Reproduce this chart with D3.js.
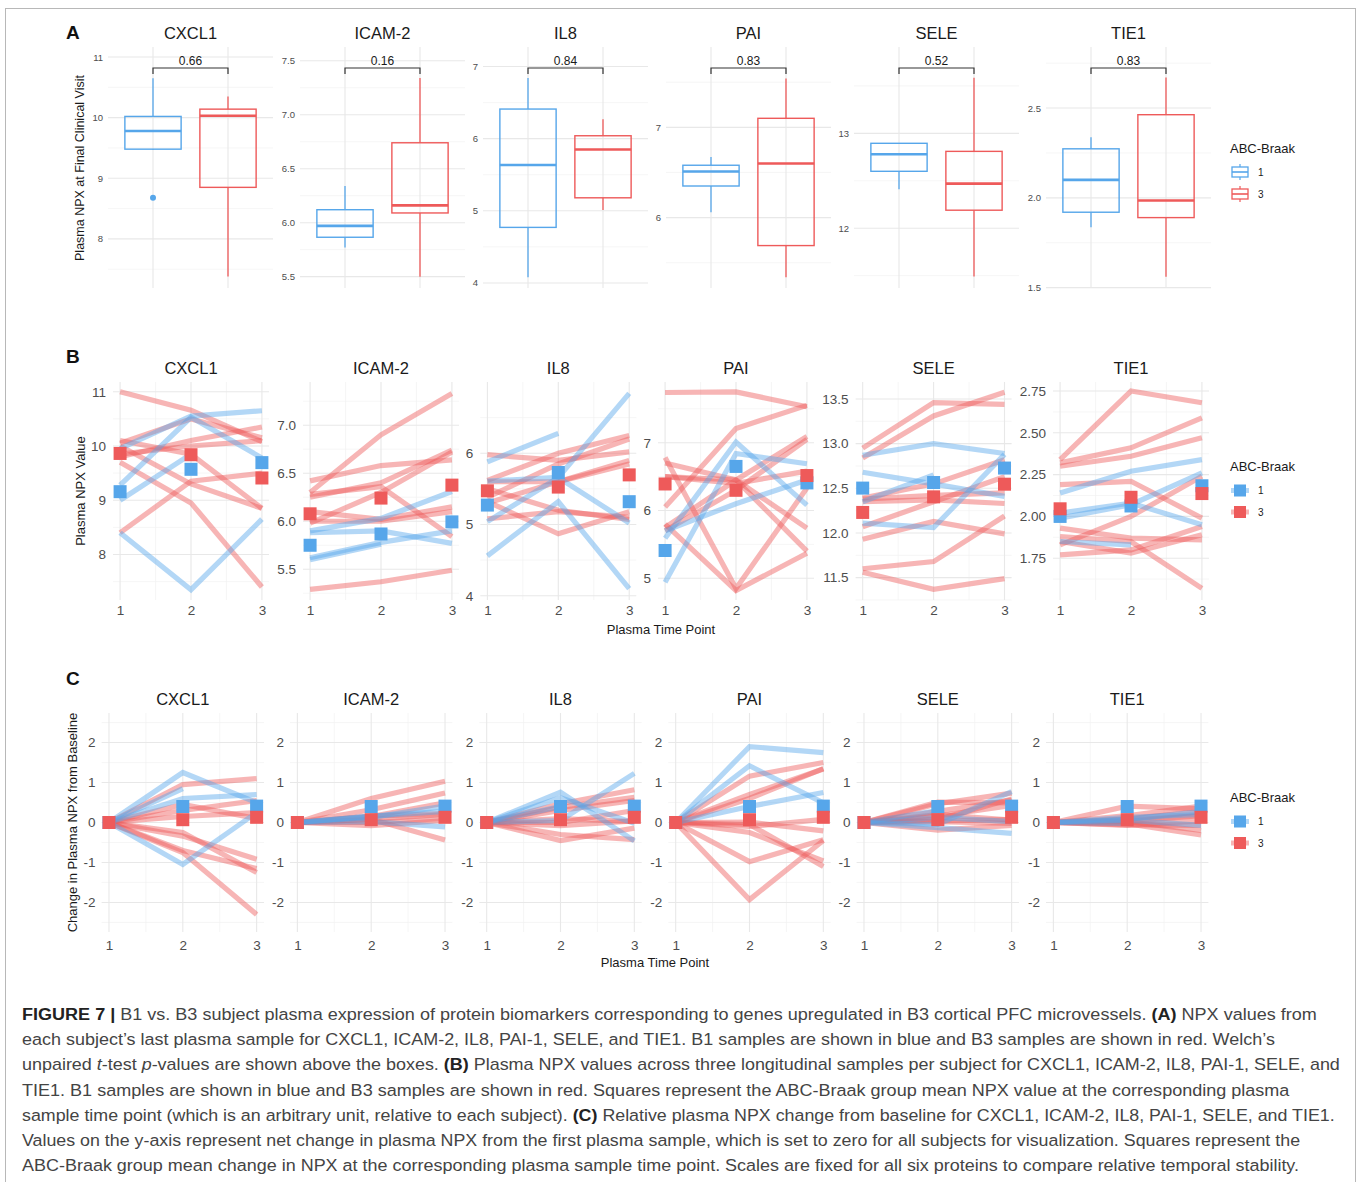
<!DOCTYPE html>
<html>
<head>
<meta charset="utf-8">
<script src="https://cdn.jsdelivr.net/npm/d3@7"></script>
<style>
  body { margin: 0; background: #fff; }
  text { font-family: "Liberation Sans", Arial, Helvetica, sans-serif; }
</style>
</head>
<body>
<svg id="fig" width="1360" height="1182"></svg>
<script>
// ---- data ----
const proteins = ['CXCL1', 'ICAM-2', 'IL8', 'PAI', 'SELE', 'TIE1']
const groups = ['1', '3']
const timePoints = [1, 2, 3]
const pValues = ['0.66', '0.16', '0.84', '0.83', '0.52', '0.83']

// panel A boxes: [lower whisker, Q1, median, Q3, upper whisker]
const boxB1 = [
  [9.47, 9.48, 9.78, 10.02, 10.65],
  [5.77, 5.865, 5.97, 6.12, 6.34],
  [4.08, 4.77, 5.635, 6.41, 6.84],
  [6.06, 6.35, 6.51, 6.58, 6.67],
  [12.41, 12.60, 12.78, 12.895, 12.895],
  [1.836, 1.92, 2.10, 2.273, 2.338]
]
const boxB3 = [
  [7.38, 8.85, 10.03, 10.14, 10.35],
  [5.50, 6.09, 6.16, 6.74, 7.34],
  [5.01, 5.18, 5.85, 6.04, 6.27],
  [5.34, 5.69, 6.60, 7.10, 7.54],
  [11.49, 12.19, 12.47, 12.81, 13.585],
  [1.56, 1.89, 1.985, 2.463, 2.67]
]
const outliersB1 = [[8.68], [], [], [], [], []]
const outliersB3 = [[], [], [], [], [], []]
const yDomA = [[7.19, 11.165], [5.395, 7.627], [3.93, 7.27], [5.22, 7.89], [11.37, 13.91], [1.498, 2.84]]
const ticksA = [[8, 9, 10, 11], [5.5, 6, 6.5, 7, 7.5], [4, 5, 6, 7], [6, 7], [12, 13], [1.5, 2, 2.5]]
const fmtA = ['.0f', '.1f', '.0f', '.0f', '.0f', '.1f']

// panel B: one row per subject, NPX at time points 1,2,3 (null = no sample)
const cxcl1B1 = [[8.40, 7.35, 8.65], [9.28, 10.53, 9.78], [9.95, 10.55, 10.65], [9.00, 9.85, null]]
const cxcl1B3 = [[11.0, 10.66, 10.08], [8.40, 9.35, 9.50], [9.70, 8.95, 7.40], [10.10, 9.85, 8.85],
  [9.80, 10.10, 10.35], [10.05, 10.50, 10.15], [9.85, 10.00, 10.10], [10.00, 9.30, 8.85]]
const icam2B1 = [[5.90, 6.03, 6.31], [5.88, 5.90, 5.77], [5.62, 5.78, 5.90], [5.60, 5.76, null]]
const icam2B3 = [[6.30, 6.90, 7.33], [5.29, 5.37, 5.49], [6.42, 6.58, 6.64], [6.25, 6.40, 6.74],
  [6.28, 6.36, 5.84], [5.98, 6.30, 6.72], [6.10, 6.02, 6.15], [6.00, 6.00, 6.10]]
const il8B1 = [[5.88, 6.28, null], [4.56, 5.32, 4.10], [5.61, 5.66, 6.84], [5.04, 5.66, 5.02]]
const il8B3 = [[5.98, 5.90, 6.02], [5.62, 6.00, 6.25], [5.60, 5.60, 5.90], [5.38, 5.85, 6.20],
  [5.30, 5.60, 5.85], [5.50, 5.20, 5.07], [5.32, 4.87, 5.18], [5.08, 5.18, 5.10]]
const paiB1 = [[4.94, 6.84, 6.69], [5.59, 7.01, 6.08], [5.70, 6.10, 6.45]]
const paiB3 = [[7.74, 7.75, 7.53], [6.05, 7.21, 7.55], [6.78, 4.85, 6.33], [5.80, 4.82, 5.37],
  [5.75, 6.45, 7.09], [6.70, 6.45, 5.74], [6.50, 6.40, 6.58], [5.70, 6.30, 7.05], [6.50, 6.45, 5.40]]
const seleB1 = [[12.87, 13.00, 12.89], [12.68, 12.55, 12.41], [12.35, 12.65, null], [12.11, 12.06, 12.88]]
const seleB3 = [[12.95, 13.46, 13.44], [12.84, 13.31, 13.575], [12.39, 12.55, 12.82], [12.38, 12.42, 12.45],
  [12.35, 12.37, 12.33], [12.07, 12.35, 12.63], [11.93, 12.13, 11.99], [11.60, 11.68, 12.19], [11.56, 11.37, 11.49]]
const tie1B1 = [[2.14, 2.27, 2.34], [2.02, 2.08, 1.95], [1.99, 2.07, 2.26], [1.85, 1.83, null]]
const tie1B3 = [[2.34, 2.75, 2.68], [2.32, 2.41, 2.59], [2.30, 2.36, 2.47], [2.19, 2.21, 1.99],
  [1.93, 1.87, 1.86], [1.88, 1.85, 1.57], [1.83, 2.00, 2.24], [1.77, 1.80, 1.94], [1.85, 1.78, 1.89]]
const yDomB = [[7.16, 11.18], [5.18, 7.45], [3.94, 7.0], [4.68, 7.895], [11.25, 13.69], [1.50, 2.804]]
const ticksB = [[8, 9, 10, 11], [5.5, 6, 6.5, 7], [4, 5, 6], [5, 6, 7], [11.5, 12, 12.5, 13, 13.5], [1.75, 2, 2.25, 2.5, 2.75]]
const fmtB = ['.0f', '.1f', '.0f', '.0f', '.1f', '.2f']

// panel C: fixed scale, group mean squares as drawn in the figure
const yDomC = [-2.74, 2.74]
const ticksC = [-2, -1, 0, 1, 2]
const meanC1 = [0, 0.40, 0.41]
const meanC3 = [0, 0.07, 0.13]

// ---- setup ----
const linesB1 = [cxcl1B1, icam2B1, il8B1, paiB1, seleB1, tie1B1]
const linesB3 = [cxcl1B3, icam2B3, il8B3, paiB3, seleB3, tie1B3]
const blue = '#56a6ea', red = '#ee5a5a'
const ink = '#1a1a1a', tickInk = '#4d4d4d'

let svg = d3.select('#fig')

svg.append('rect').attr('x', 5.5).attr('y', 8.5).attr('width', 1350).attr('height', 1200)
  .attr('fill', 'none').attr('stroke', '#b8b8b8')

function minorOf(ticks, dom) {
  let step = ticks.length > 1 ? ticks[1] - ticks[0] : 1
  let out = []
  for (let v = ticks[0] - step / 2; v <= dom[1] + 1e-9; v += step) {
    if (v >= dom[0]) out.push(v)
  }
  return out
}

// ggplot prints a plain hyphen for negatives
function fmtPlain(spec) {
  let f = d3.format(spec)
  return d => f(d).replace('\u2212', '-')
}

function drawGrid(g, x, y, xMajor, xMinor, yMajor, yMinor) {
  let [x0, x1] = x.range(), [y0, y1] = y.range()
  g.selectAll(null).data(yMinor).join('line')
    .attr('x1', x0).attr('x2', x1).attr('y1', d => y(d)).attr('y2', d => y(d))
    .attr('stroke', '#f2f2f2').attr('stroke-width', 0.7)
  g.selectAll(null).data(xMinor).join('line')
    .attr('y1', y0).attr('y2', y1).attr('x1', d => x(d)).attr('x2', d => x(d))
    .attr('stroke', '#f2f2f2').attr('stroke-width', 0.7)
  g.selectAll(null).data(yMajor).join('line')
    .attr('x1', x0).attr('x2', x1).attr('y1', d => y(d)).attr('y2', d => y(d))
    .attr('stroke', '#e8e8e8').attr('stroke-width', 1.1)
  g.selectAll(null).data(xMajor).join('line')
    .attr('y1', y0).attr('y2', y1).attr('x1', d => x(d)).attr('x2', d => x(d))
    .attr('stroke', '#e8e8e8').attr('stroke-width', 1.1)
}

function leftAxis(g, y, ticks, fmt, size, pad) {
  let ax = g.append('g').attr('transform', 'translate(' + y.left + ',0)')
    .call(d3.axisLeft(y).tickValues(ticks).tickFormat(fmtPlain(fmt)).tickSize(0).tickPadding(pad))
  ax.select('.domain').remove()
  ax.selectAll('text').attr('font-size', size).attr('fill', tickInk)
    .attr('font-family', '"Liberation Sans", Arial, sans-serif')
}

function panelTitle(text, cx, cy) {
  svg.append('text').attr('x', cx).attr('y', cy).attr('dy', '0.35em')
    .attr('text-anchor', 'middle').attr('font-size', 16.5).attr('fill', ink).text(text)
}

function letter(t, x, y) {
  svg.append('text').attr('x', x).attr('y', y).attr('font-size', 19).attr('font-weight', 'bold')
    .attr('fill', '#111').text(t)
}

function yTitle(t, x, cy, size) {
  svg.append('text').attr('transform', 'translate(' + x + ',' + cy + ') rotate(-90)')
    .attr('text-anchor', 'middle').attr('dy', '0.35em').attr('font-size', size).attr('fill', ink).text(t)
}

// ---- panel A: boxplots ----
function drawBoxRow() {
  let top = 47, bottom = 288, w = 165
  let lefts = [108, 300, 483, 666, 854, 1046]
  proteins.forEach((p, i) => {
    let left = lefts[i]
    let g = svg.append('g')
    let x = d3.scaleLinear().domain([0.4, 2.6]).range([left, left + w])
    let y = d3.scaleLinear().domain(yDomA[i]).range([bottom, top])
    y.left = left
    drawGrid(g, x, y, [1, 2], [], ticksA[i], minorOf(ticksA[i], yDomA[i]))
    leftAxis(g, y, ticksA[i], fmtA[i], 9.5, 5)

    let boxes = [{ k: 1, s: boxB1[i], c: blue, out: outliersB1[i] }, { k: 2, s: boxB3[i], c: red, out: outliersB3[i] }]
    boxes.forEach(b => {
      let cx = x(b.k), hw = x(b.k + 0.375) - cx
      g.append('line').attr('x1', cx).attr('x2', cx).attr('y1', y(b.s[3])).attr('y2', y(b.s[4]))
        .attr('stroke', b.c).attr('stroke-width', 1.3)
      g.append('line').attr('x1', cx).attr('x2', cx).attr('y1', y(b.s[1])).attr('y2', y(b.s[0]))
        .attr('stroke', b.c).attr('stroke-width', 1.3)
      g.append('rect').attr('x', cx - hw).attr('width', 2 * hw)
        .attr('y', y(b.s[3])).attr('height', y(b.s[1]) - y(b.s[3]))
        .attr('fill', 'none').attr('stroke', b.c).attr('stroke-width', 1.4)
      g.append('line').attr('x1', cx - hw).attr('x2', cx + hw).attr('y1', y(b.s[2])).attr('y2', y(b.s[2]))
        .attr('stroke', b.c).attr('stroke-width', 2.6)
      g.selectAll(null).data(b.out).join('circle')
        .attr('cx', cx).attr('cy', d => y(d)).attr('r', 3).attr('fill', b.c)
    })

    // significance bracket
    let by = top + 21
    g.append('path')
      .attr('d', 'M' + x(1) + ',' + (by + 6) + 'V' + by + 'H' + x(2) + 'V' + (by + 6))
      .attr('fill', 'none').attr('stroke', '#333').attr('stroke-width', 1.2)
    g.append('text').attr('x', (x(1) + x(2)) / 2).attr('y', by - 3).attr('text-anchor', 'middle')
      .attr('font-size', 12).attr('fill', ink).text(pValues[i])

    panelTitle(p, left + w / 2, 33)
  })
  yTitle('Plasma NPX at Final Clinical Visit', 80, 168, 12.5)

  // legend
  svg.append('text').attr('x', 1230).attr('y', 153).attr('font-size', 13).attr('fill', ink).text('ABC-Braak')
  ;[blue, red].forEach((c, j) => {
    let cy = 172 + j * 22
    svg.append('line').attr('x1', 1240).attr('x2', 1240).attr('y1', cy - 8).attr('y2', cy + 8)
      .attr('stroke', c).attr('stroke-width', 1.2)
    svg.append('rect').attr('x', 1232).attr('y', cy - 5).attr('width', 16).attr('height', 10)
      .attr('fill', '#fff').attr('stroke', c).attr('stroke-width', 1.3)
    svg.append('line').attr('x1', 1232).attr('x2', 1248).attr('y1', cy).attr('y2', cy)
      .attr('stroke', c).attr('stroke-width', 1.6)
    svg.append('text').attr('x', 1258).attr('y', cy).attr('dy', '0.35em').attr('font-size', 10)
      .attr('fill', ink).text(groups[j])
  })
}

// ---- panels B and C: subject trajectories ----
function drawLineRow(cfg) {
  proteins.forEach((p, i) => {
    let left = cfg.lefts[i]
    let g = svg.append('g')
    let dom = cfg.doms(i), ticks = cfg.ticks(i)
    let x = d3.scaleLinear().domain([0.9, 3.1]).range([left, left + cfg.width])
    let y = d3.scaleLinear().domain(dom).range([cfg.bottom, cfg.top])
    y.left = left
    drawGrid(g, x, y, timePoints, [1.5, 2.5], ticks, minorOf(ticks, dom))
    leftAxis(g, y, ticks, cfg.fmt(i), 13.5, cfg.pad)
    let ax = g.append('g').attr('transform', 'translate(0,' + cfg.bottom + ')')
      .call(d3.axisBottom(x).tickValues(timePoints).tickFormat(d3.format('d')).tickSize(0).tickPadding(cfg.xpad))
    ax.select('.domain').remove()
    ax.selectAll('text').attr('font-size', 13.5).attr('fill', tickInk)

    let line = d3.line().defined(d => d != null).x((d, j) => x(j + 1)).y(d => y(d))
    let series = [{ rows: cfg.rows(linesB3[i]), c: red }, { rows: cfg.rows(linesB1[i]), c: blue }]
    series.forEach(s => {
      g.selectAll(null).data(s.rows).join('path')
        .attr('d', line).attr('fill', 'none').attr('stroke', s.c)
        .attr('stroke-opacity', 0.45).attr('stroke-width', 5.2).attr('stroke-linecap', 'butt')
    })
    let means = [{ m: cfg.means(linesB1[i], meanC1), c: blue }, { m: cfg.means(linesB3[i], meanC3), c: red }]
    means.forEach(s => {
      g.selectAll(null).data(s.m).join('rect')
        .attr('x', (d, j) => x(j + 1) - 6.5).attr('y', d => y(d) - 6.5)
        .attr('width', 13).attr('height', 13).attr('fill', s.c)
    })
    panelTitle(p, left + cfg.width / 2, cfg.titleY)
  })
  yTitle(cfg.yLabel, cfg.yLabelX, (cfg.top + cfg.bottom) / 2, 13)
  svg.append('text').attr('x', cfg.xLabelX).attr('y', cfg.xLabelY).attr('dy', '0.35em')
    .attr('text-anchor', 'middle').attr('font-size', 13).attr('fill', ink).text('Plasma Time Point')

  // legend
  svg.append('text').attr('x', 1230).attr('y', cfg.legY).attr('font-size', 13).attr('fill', ink).text('ABC-Braak')
  ;[blue, red].forEach((c, j) => {
    let cy = cfg.legY + 19.5 + j * 21.5
    svg.append('line').attr('x1', 1231).attr('x2', 1249).attr('y1', cy).attr('y2', cy)
      .attr('stroke', c).attr('stroke-opacity', 0.45).attr('stroke-width', 5)
    svg.append('rect').attr('x', 1234).attr('y', cy - 6).attr('width', 12).attr('height', 12).attr('fill', c)
    svg.append('text').attr('x', 1258).attr('y', cy).attr('dy', '0.35em').attr('font-size', 10)
      .attr('fill', ink).text(groups[j])
  })
}

function groupMeans(rows) {
  return timePoints.map((t, j) => d3.mean(rows, r => r[j]))
}

drawBoxRow()

drawLineRow({
  top: 382, bottom: 600, width: 156, lefts: [113, 303, 480.3, 658, 855.6, 1053],
  doms: i => yDomB[i], ticks: i => ticksB[i], fmt: i => fmtB[i], pad: 7, xpad: 5,
  rows: rows => rows,
  means: (rows, fixed) => groupMeans(rows),
  titleY: 368, yLabel: 'Plasma NPX Value', yLabelX: 80, xLabelX: 661, xLabelY: 629, legY: 471
})

drawLineRow({
  top: 713, bottom: 932, width: 162.4, lefts: [101.6, 290, 479.3, 668.3, 856.6, 1046],
  doms: i => yDomC, ticks: i => ticksC, fmt: i => '.0f', pad: 6, xpad: 8,
  // change from the first plasma sample
  rows: rows => rows.map(r => r.map(v => v == null ? null : v - r[0])),
  means: (rows, fixed) => fixed,
  titleY: 699, yLabel: 'Change in Plasma NPX from Baseline', yLabelX: 72, xLabelX: 655, xLabelY: 962, legY: 802
})

letter('A', 66, 39)
letter('B', 66, 363)
letter('C', 66, 685)

// ---- caption ----
function drawCaption() {
  const lines = [
    [['FIGURE 7 |', 'b'], [' B1 vs. B3 subject plasma expression of protein biomarkers corresponding to genes upregulated in B3 cortical PFC microvessels. ', ''], ['(A)', 'b'], [' NPX values from', '']],
    [['each subject\u2019s last plasma sample for CXCL1, ICAM-2, IL8, PAI-1, SELE, and TIE1. B1 samples are shown in blue and B3 samples are shown in red. Welch\u2019s', '']],
    [['unpaired ', ''], ['t', 'i'], ['-test ', ''], ['p', 'i'], ['-values are shown above the boxes. ', ''], ['(B)', 'b'], [' Plasma NPX values across three longitudinal samples per subject for CXCL1, ICAM-2, IL8, PAI-1, SELE, and', '']],
    [['TIE1. B1 samples are shown in blue and B3 samples are shown in red. Squares represent the ABC-Braak group mean NPX value at the corresponding plasma', '']],
    [['sample time point (which is an arbitrary unit, relative to each subject). ', ''], ['(C)', 'b'], [' Relative plasma NPX change from baseline for CXCL1, ICAM-2, IL8, PAI-1, SELE, and TIE1.', '']],
    [['Values on the y-axis represent net change in plasma NPX from the first plasma sample, which is set to zero for all subjects for visualization. Squares represent the', '']],
    [['ABC-Braak group mean change in NPX at the corresponding plasma sample time point. Scales are fixed for all six proteins to compare relative temporal stability.', '']]
  ]
  const rightEdges = [1318, 1276, 1341, 1290, 1336, 1301, 1300]
  lines.forEach((segs, i) => {
    let t = svg.append('text').attr('x', 0).attr('y', 0).attr('font-size', 17).attr('fill', '#444')
    segs.forEach(s => {
      let ts = t.append('tspan').text(s[0])
      if (s[1] === 'b') ts.attr('font-weight', 'bold').attr('fill', '#222')
      if (s[1] === 'i') ts.attr('font-style', 'italic')
    })
    let len = t.node().getComputedTextLength()
    let k = (rightEdges[i] - 22) / len
    t.attr('transform', 'translate(22,' + (1020 + i * 25.2) + ') scale(' + k + ',1)')
  })
}
drawCaption()
</script>
</body>
</html>
